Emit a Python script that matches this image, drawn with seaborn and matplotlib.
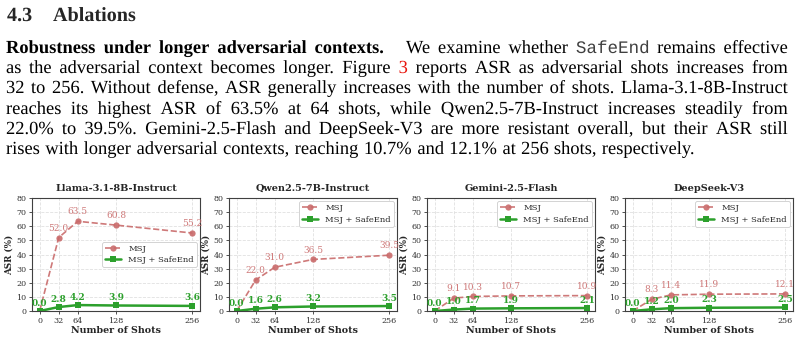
import numpy as np
import pandas as pd
import matplotlib
matplotlib.use("Agg")
import matplotlib.pyplot as plt
import matplotlib.patheffects as pe
import seaborn as sns

# ---------------- data ----------------
shots = [0, 32, 64, 128, 256]
models = ["Llama-3.1-8B-Instruct", "Qwen2.5-7B-Instruct", "Gemini-2.5-Flash", "DeepSeek-V3"]
msj_llama = [0.0, 52.0, 63.5, 60.8, 55.2]
msj_qwen = [0.0, 22.0, 31.0, 36.5, 39.5]
msj_gemini = [0.0, 9.1, 10.3, 10.7, 10.9]
msj_deepseek = [0.0, 8.3, 11.4, 11.9, 12.1]
safe_llama = [0.0, 2.8, 4.2, 3.9, 3.6]
safe_qwen = [0.0, 1.6, 2.6, 3.2, 3.5]
safe_gemini = [0.0, 1.0, 1.7, 1.9, 2.1]
safe_deepseek = [0.0, 1.2, 2.0, 2.3, 2.5]
series_names = ["MSJ", "MSJ + SafeEnd"]
y_ticks = [0, 10, 20, 30, 40, 50, 60, 70, 80]

msj_all = [msj_llama, msj_qwen, msj_gemini, msj_deepseek]
safe_all = [safe_llama, safe_qwen, safe_gemini, safe_deepseek]
legend_locs = ["center right", "upper right", "upper right", "upper right"]

# ---------------- style ----------------
sns.set_theme(style="whitegrid")
plt.rcParams.update({
    "font.family": ["DejaVu Serif"],
    "axes.edgecolor": "0.25",
    "axes.linewidth": 0.8,
    "grid.color": "0.88",
    "grid.linestyle": "--",
    "grid.linewidth": 0.6,
    "xtick.bottom": True,
    "ytick.left": True,
    "xtick.major.size": 2.5,
    "ytick.major.size": 2.5,
    "xtick.major.width": 0.6,
    "ytick.major.width": 0.6,
    "xtick.color": "0.2",
    "ytick.color": "0.2",
    "xtick.major.pad": 1.5,
    "ytick.major.pad": 1.5,
})

W, H = 804, 337
fig = plt.figure(figsize=(W / 100, H / 100), dpi=100)
fig.patch.set_facecolor("white")

MSJ_C = "#c96a6a"
SAFE_C = "#2ca02c"

# ---------------- text block ----------------
BODY = "Liberation Serif"
MONO = "Liberation Mono"
renderer = fig.canvas.get_renderer()
PE = [pe.Normal()]   # draw as vector outlines -> consistent baselines between words


def measure(s, props):
    t = fig.text(0, 0, s, **props)
    w = t.get_window_extent(renderer).width
    t.remove()
    return w


LAST = "rises with longer adversarial contexts, reaching 10.7% and 12.1% at 256 shots, respectively."
FS = 0.94 * 12.0 * 721.0 / measure(LAST, dict(fontsize=12.0, family=BODY))


def draw_line(tokens, y, x0=6, x1=788, justify=True, extra=None):
    extra = extra or {}
    widths = [measure(s, p) for s, p in tokens]
    space = measure("a b", dict(fontsize=FS, family=BODY)) - measure("ab", dict(fontsize=FS, family=BODY))
    ngaps = len(tokens) - 1
    add = sum(extra.values())
    if justify:
        gap = (x1 - x0 - sum(widths) - add) / ngaps
    else:
        gap = space * 1.15
    x = x0
    for i, ((s, p), w) in enumerate(zip(tokens, widths)):
        fig.text(x / W, 1 - y / H, s, va="baseline", ha="left", path_effects=PE, **p)
        x += w + gap + extra.get(i, 0)


def words(s, **p):
    base = dict(fontsize=FS, family=BODY, color="black")
    base.update(p)
    return [(w, base) for w in s.split()]


fig.text(7 / W, 1 - 21 / H, "4.3", fontsize=14.5, family=BODY, weight="bold", va="baseline",
         path_effects=PE)
fig.text(53 / W, 1 - 21 / H, "Ablations", fontsize=14.5, family=BODY, weight="bold", va="baseline",
         path_effects=PE)

l1 = words("Robustness under longer adversarial contexts.", weight="bold") + \
    words("We examine whether") + words("SafeEnd", family=MONO, fontsize=FS * 0.95, color="0.25") + \
    words("remains effective")
draw_line(l1, 53, extra={4: 14})
l2 = words("as the adversarial context becomes longer. Figure") + words("3", color="#e8140c") + \
    words("reports ASR as adversarial shots increases from")
draw_line(l2, 73)
draw_line(words("32 to 256. Without defense, ASR generally increases with the number of shots. Llama-3.1-8B-Instruct"), 93)
draw_line(words("reaches its highest ASR of 63.5% at 64 shots, while Qwen2.5-7B-Instruct increases steadily from"), 114)
draw_line(words("22.0% to 39.5%. Gemini-2.5-Flash and DeepSeek-V3 are more resistant overall, but their ASR still"), 134)
draw_line(words(LAST), 154, justify=False)

# ---------------- charts ----------------
lefts = [32, 229, 427, 625]
ax_w, ax_top, ax_bot = 168, 198, 311

for i, model in enumerate(models):
    ax = fig.add_axes([lefts[i] / W, (H - ax_bot) / H, ax_w / W, (ax_bot - ax_top) / H])
    df = pd.DataFrame({
        "shots": shots * 2,
        "asr": msj_all[i] + safe_all[i],
        "method": [series_names[0]] * len(shots) + [series_names[1]] * len(shots),
    })
    sns.lineplot(data=df[df.method == series_names[0]], x="shots", y="asr", ax=ax,
                 color=MSJ_C, linestyle="--", linewidth=1.2, marker="o", markersize=4.5,
                 markeredgewidth=0, alpha=0.9, label=series_names[0])
    sns.lineplot(data=df[df.method == series_names[1]], x="shots", y="asr", ax=ax,
                 color=SAFE_C, linestyle="-", linewidth=1.8, marker="s", markersize=4.5,
                 markeredgewidth=0, label=series_names[1])
    for x, v in zip(shots[1:], msj_all[i][1:]):
        ax.annotate(f"{v:.1f}", (x, v), xytext=(0, 3.5), textcoords="offset points",
                    ha="center", va="bottom", fontsize=6.5, color=MSJ_C, alpha=0.9)
    for x, v in zip(shots, safe_all[i]):
        ax.annotate(f"{v:.1f}", (x, v), xytext=(0, 2.5), textcoords="offset points",
                    ha="center", va="bottom", fontsize=6.5, color=SAFE_C, weight="bold")
    ax.set_ylim(0, 80)
    ax.set_yticks(y_ticks)
    ax.set_xticks(shots)
    ax.tick_params(labelsize=5.8)
    ax.set_title(model, fontsize=7, weight="bold", pad=5)
    ax.set_xlabel("Number of Shots", fontsize=6.8, weight="bold", labelpad=1)
    ax.set_ylabel("ASR (%)", fontsize=6.3, weight="bold", labelpad=2)
    for s in ax.spines.values():
        s.set_visible(True)
    leg = ax.legend(loc=legend_locs[i], fontsize=6.0, frameon=True, fancybox=True,
                    edgecolor="0.8", framealpha=1, borderpad=0.35, handlelength=2.0,
                    labelspacing=0.4, borderaxespad=0.4)
    leg.get_frame().set_linewidth(0.6)

fig.savefig("out.png", dpi=100)
